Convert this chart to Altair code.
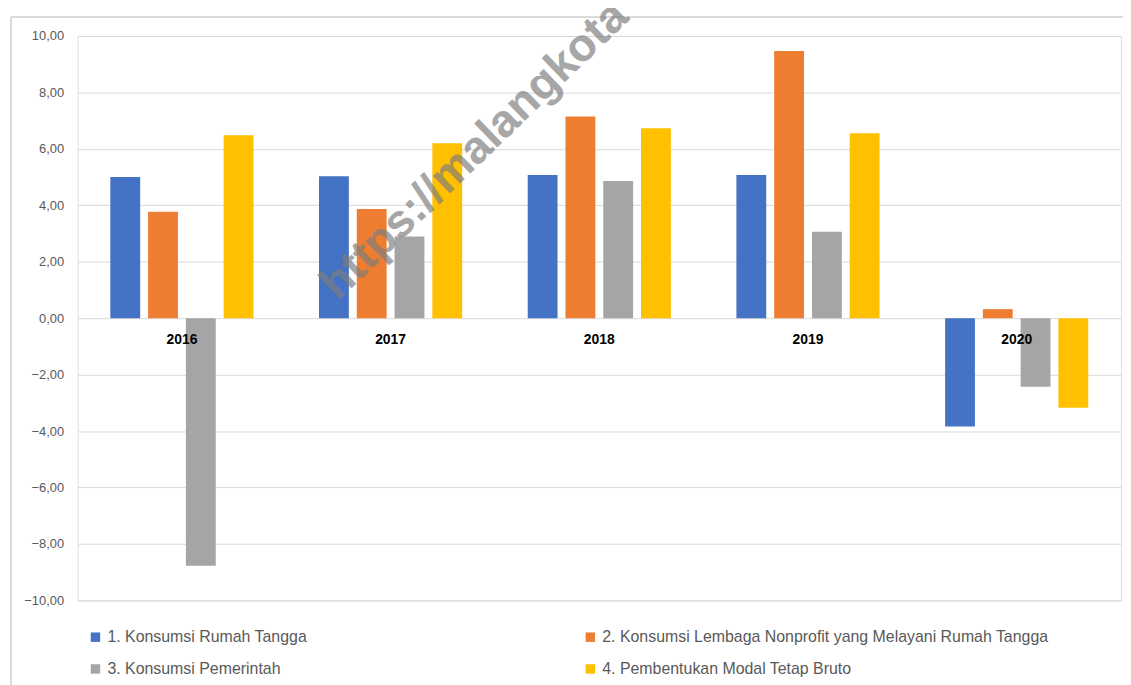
import altair as alt
import pandas as pd

years = ["2016", "2017", "2018", "2019", "2020"]
series = [
    "1. Konsumsi Rumah Tangga",
    "2. Konsumsi Lembaga Nonprofit yang Melayani Rumah Tangga",
    "3. Konsumsi Pemerintah",
    "4. Pembentukan Modal Tetap Bruto",
]
rumah_tangga = [5.00, 5.03, 5.07, 5.07, -3.84]
lnprt = [3.77, 3.87, 7.15, 9.47, 0.32]
pemerintah = [-8.77, 2.89, 4.86, 3.06, -2.43]
pmtb = [6.48, 6.20, 6.73, 6.55, -3.17]
colors = ["#4472C4", "#ED7D31", "#A5A5A5", "#FFC000"]

rows = []
for s, vals in zip(series, [rumah_tangga, lnprt, pemerintah, pmtb]):
    for y, v in zip(years, vals):
        rows.append({"Tahun": y, "Seri": s, "Nilai": v})
df = pd.DataFrame(rows)
df_years = pd.DataFrame({"Tahun": years, "Nilai": [0] * len(years)})

FONT = "Liberation Sans"

xscale = alt.Scale(domain=years, paddingInner=0.276, paddingOuter=0.138)

bars = alt.Chart(df).mark_bar().encode(
    x=alt.X("Tahun:N", scale=xscale, axis=None, sort=years),
    xOffset=alt.XOffset("Seri:N", sort=series,
                        scale=alt.Scale(paddingInner=0.21, paddingOuter=0.105)),
    y=alt.Y("Nilai:Q", scale=alt.Scale(domain=[-10, 10], nice=False),
            axis=alt.Axis(values=list(range(-10, 11, 2)),
                          labelExpr="replace(format(datum.value, '.2f'), '.', ',')",
                          domain=False, ticks=False, labelPadding=14,
                          labelFontSize=13, labelColor="#595959", labelFont=FONT,
                          gridColor="#d9d9d9", gridWidth=1, title=None)),
    color=alt.Color("Seri:N", sort=series,
                    scale=alt.Scale(domain=series, range=colors),
                    legend=alt.Legend(orient="none", legendX=10, legendY=597,
                                      direction="horizontal", columns=2,
                                      columnPadding=277, rowPadding=16,
                                      symbolType="square", symbolSize=90,
                                      symbolStrokeWidth=0,
                                      labelFontSize=16, labelColor="#595959",
                                      labelFont=FONT, labelLimit=600, title=None)),
)

labels = alt.Chart(df_years).mark_text(
    fontWeight="bold", fontSize=14, font=FONT, color="#000000",
    baseline="middle", dy=22
).encode(
    x=alt.X("Tahun:N", scale=xscale, sort=years),
    y=alt.Y("Nilai:Q"),
    text="Tahun:N",
)

border = alt.Chart(df_years).mark_rect(
    fill=None, stroke="#d9d9d9", strokeWidth=1
).encode(
    x=alt.value(-67), x2=alt.value(1080), y=alt.value(-19), y2=alt.value(700)
)

watermark = alt.Chart(df_years).mark_text(
    text="https://malangkota", angle=316, fontSize=46, fontWeight="bold",
    font=FONT, color="#7f7f7f", opacity=0.2, align="left", baseline="alphabetic"
).encode(
    x=alt.value(262), y=alt.value(267)
)

chart = alt.layer(border, bars, labels, watermark).properties(
    width=1050, height=568,
    padding={"left": 70, "top": 26, "right": 2, "bottom": 83},
    autosize=alt.AutoSizeParams(type="none"),
).configure_view(stroke=None).configure(background="white")

chart.save("out.html", embed_options={"renderer": "svg", "actions": False})
